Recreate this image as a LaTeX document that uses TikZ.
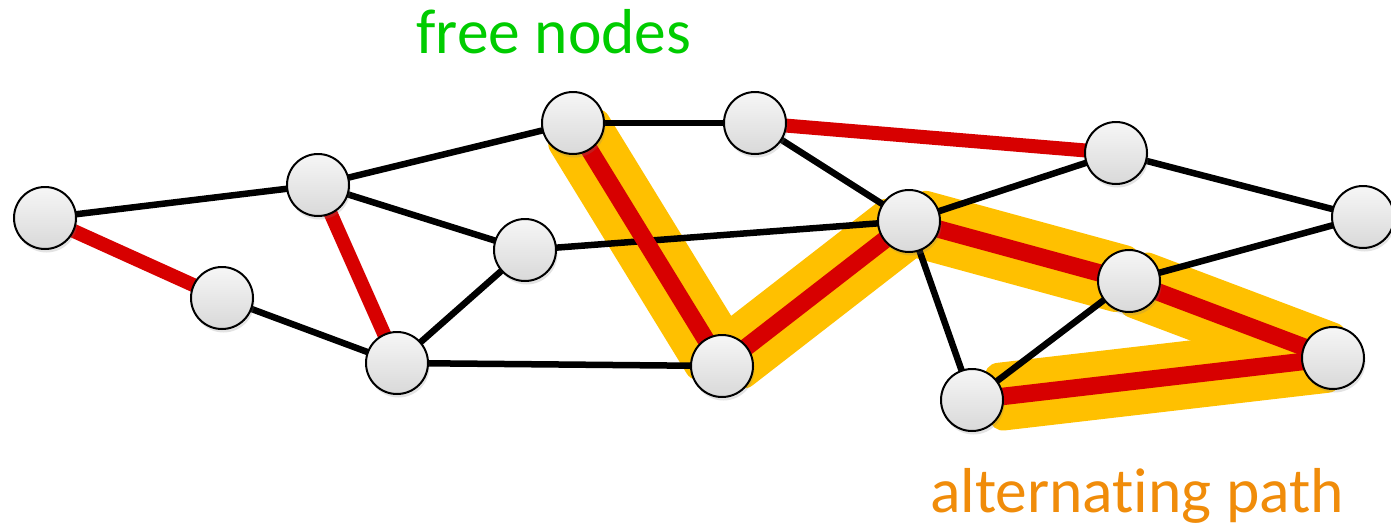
\documentclass[tikz,border=0pt]{standalone}
\usepackage{fontspec}
\setmainfont{Carlito}[RawFeature={-liga;-clig;-dlig}]
\usetikzlibrary{shadows,calc,backgrounds}
\definecolor{hl}{RGB}{255,192,0}
\definecolor{mred}{RGB}{215,0,0}
\definecolor{fgreen}{RGB}{0,204,0}
\definecolor{porange}{RGB}{240,140,10}
\tikzset{
  vtx/.style={circle, draw=black, line width=2pt, minimum size=62pt, inner sep=0pt,
    top color=gray!7, bottom color=gray!30,
    drop shadow={opacity=0.22, shadow xshift=1.5pt, shadow yshift=-3.5pt}},
  plain/.style={draw=black, line width=6.5pt},
  matched/.style={draw=mred, line width=14pt},
  pathred/.style={draw=mred, line width=17.5pt},
  glowfill/.style={fill=hl, rounded corners=14pt},
  lbl/.style={font=\fontsize{63.5}{63.5}\selectfont, anchor=base, inner sep=0pt}
}
% highlight band between two nodes: #1,#2 node names, #3,#4 extensions past them
\newcommand{\hlband}[4]{%
  \path ($(#1.center)!-#3!(#2.center)$) coordinate (ba)
        ($(#2.center)!-#4!(#1.center)$) coordinate (bb);
  \path[glowfill] ($(ba)!34pt!90:(bb)$) -- ($(ba)!34pt!-90:(bb)$)
     -- ($(bb)!34pt!90:(ba)$) -- ($(bb)!34pt!-90:(ba)$) -- cycle;}
\begin{document}
\begin{tikzpicture}[x=1pt,y=-1pt]
\useasboundingbox (0,0) rectangle (1391,528);
% vertices
\node[vtx] (A) at (45,218) {};
\node[vtx] (B) at (222,298) {};
\node[vtx] (C) at (318,185) {};
\node[vtx] (D) at (397,363) {};
\node[vtx] (E) at (525,250) {};
\node[vtx] (F) at (573,123) {};
\node[vtx] (G) at (722,366) {};
\node[vtx] (H) at (755,123) {};
\node[vtx] (I) at (909,221) {};
\node[vtx] (J) at (1116,153) {};
\node[vtx] (K) at (1129,281) {};
\node[vtx] (L) at (1363,217) {};
\node[vtx] (M) at (1333,358) {};
\node[vtx] (N) at (972,400) {};
\begin{scope}[on background layer]
% highlight of alternating path
\hlband{F}{G}{2pt}{2pt}
\hlband{G}{I}{2pt}{2pt}
\hlband{I}{K}{2pt}{5pt}
\hlband{K}{M}{2pt}{6pt}
\hlband{M}{N}{6pt}{-15pt}
% plain edges
\path[plain] (A.center) -- (C.center);
\path[plain] (B.center) -- (D.center);
\path[plain] (C.center) -- (E.center);
\path[plain] (C.center) -- (F.center);
\path[plain] (D.center) -- (E.center);
\path[plain] (D.center) -- (G.center);
\path[plain] (E.center) -- (I.center);
\path[plain] (F.center) -- (H.center);
\path[plain] (H.center) -- (I.center);
\path[plain] (I.center) -- (J.center);
\path[plain] (I.center) -- (N.center);
\path[plain] (J.center) -- (L.center);
\path[plain] (K.center) -- (L.center);
\path[plain] (K.center) -- (N.center);
% matched edges
\path[matched] (A.center) -- (B.center);
\path[matched] (C.center) -- (D.center);
\path[matched] (H.center) -- (J.center);
\path[pathred] (F.center) -- (G.center);
\path[pathred] (G.center) -- (I.center);
\path[pathred] (I.center) -- (K.center);
\path[pathred] (K.center) -- (M.center);
\path[pathred] (M.center) -- (N.center);
\end{scope}
% labels
\node[lbl, text=fgreen] (free) at (554,53) {free nodes};
\node[lbl, text=porange] (alt) at (1137,512) {alternating path};
\end{tikzpicture}
\end{document}
